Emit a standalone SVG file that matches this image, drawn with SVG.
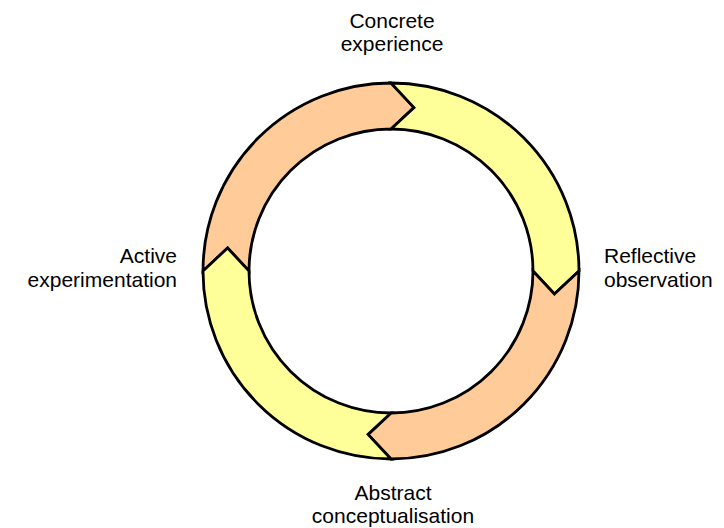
<svg xmlns="http://www.w3.org/2000/svg" width="724" height="528" viewBox="0 0 724 528">
  <style>
    .seg { stroke: #000; stroke-width: 2.8; stroke-linejoin: miter; }
    .warm { fill: #FFCC99; }
    .cool { fill: #FFFF99; }
    .lbl { font-family: "Liberation Sans", Arial, Helvetica, sans-serif; font-size: 21px; fill: #000; }
  </style>
  <rect width="724" height="528" fill="#fff"/>
  <!-- Cycle ring: four arrowed arcs, clockwise, centre (391,271), radii 188/142 -->
  <g id="connectors">
    <path id="arc-ae-ce" class="seg warm" d="M203,271 A188,188 0 0 1 391,83 L414,107.6 L391,129 A142,142 0 0 0 249,271 L227.6,248 Z"/>
    <path id="arc-ce-ro" class="seg cool" d="M391,83 A188,188 0 0 1 579,271 L554.4,294 L533,271 A142,142 0 0 0 391,129 L414,107.6 Z"/>
    <path id="arc-ro-ac" class="seg warm" d="M579,271 A188,188 0 0 1 391,459 L368,434.4 L391,413 A142,142 0 0 0 533,271 L554.4,294 Z"/>
    <path id="arc-ac-ae" class="seg cool" d="M391,459 A188,188 0 0 1 203,271 L227.6,248 L249,271 A142,142 0 0 0 391,413 L368,434.4 Z"/>
  </g>
  <g id="concrete-experience">
    <text class="lbl" x="392" y="27.5" text-anchor="middle">Concrete</text>
    <text class="lbl" x="392" y="51" text-anchor="middle">experience</text>
  </g>
  <g id="reflective-observation">
    <text class="lbl" x="604" y="263">Reflective</text>
    <text class="lbl" x="604" y="286.5">observation</text>
  </g>
  <g id="abstract-conceptualisation">
    <text class="lbl" x="393" y="499.5" text-anchor="middle">Abstract</text>
    <text class="lbl" x="393" y="523" text-anchor="middle">conceptualisation</text>
  </g>
  <g id="active-experimentation">
    <text class="lbl" x="177" y="263" text-anchor="end">Active</text>
    <text class="lbl" x="177" y="286.5" text-anchor="end">experimentation</text>
  </g>
</svg>
